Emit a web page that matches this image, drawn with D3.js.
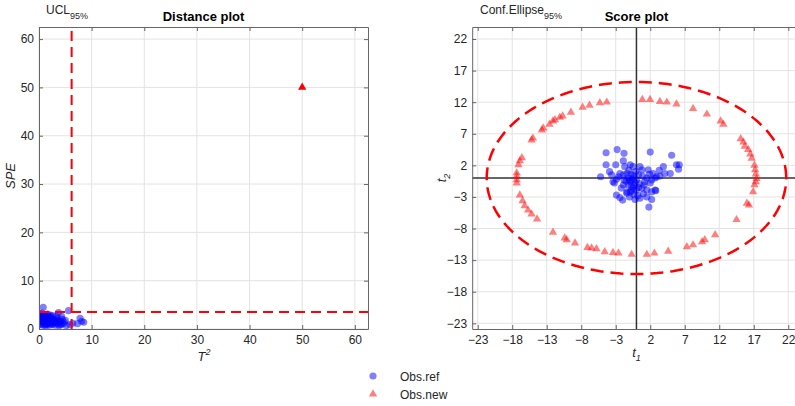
<!DOCTYPE html>
<html>
<head>
<meta charset="utf-8">
<script src="https://cdn.jsdelivr.net/npm/d3@7"></script>
<style>
  html, body { margin: 0; padding: 0; background: #fff; }
  svg { display: block; font-family: "Liberation Sans", Arial, Helvetica, sans-serif; }
</style>
</head>
<body>
<svg id="chart" width="795" height="406"></svg>
<script>
// ---- Distance plot data: [T², SPE] of reference observations ----
const refDistance = [
  [0.8,4.5],[5.6,3.8],[3.7,3.4],[7.8,2.2],[8.1,1.6],[8.5,1.4],[7.3,1.1],[0.1,3.2],[0.3,2.9],[0.5,2.5],
  [0.6,1.9],[0.9,2.2],[1.1,1.4],[1.3,2.7],[1.5,1.8],[1.7,1.1],[2.0,2.3],[2.2,1.5],[2.5,0.9],[2.8,2.0],
  [3.0,1.3],[3.3,2.6],[3.6,1.7],[4.0,1.0],[4.4,2.0],[4.8,1.4],[5.2,0.7],[0.2,1.5],[0.4,1.1],[0.7,0.8],
  [1.0,3.0],[1.2,0.9],[1.4,2.3],[1.6,3.1],[1.9,1.3],[2.1,2.9],[2.4,1.9],[2.7,1.2],[3.1,0.8],[3.5,2.2],
  [3.9,1.5],[4.3,2.6],[0.3,2.0],[0.6,1.4],[0.8,2.7],[1.1,1.8],[1.3,0.6],[1.8,2.0],[2.3,2.5],[2.9,1.6],
  [3.4,1.1],[0.1,2.4],[0.5,3.0],[0.9,1.6],[1.2,2.5],[1.6,1.5],[2.0,0.8],[2.6,2.8],[3.2,1.9],[4.1,1.6],
  [0.4,1.7],[0.7,2.3],[1.0,1.2],[1.5,2.1],[2.2,1.1],[2.8,1.4],[0.2,0.9],[0.6,3.3],[1.4,1.0],[1.9,2.6],
  [5.9,0.9],[6.4,1.2],[4.6,1.1],[0.35,2.6],[0.95,1.9],[1.75,1.7],[2.45,1.5],[3.8,0.7],[5.0,1.8],[4.2,0.9]
];
// New observation in the distance plot
const newDistance = [[50, 50]];
// Control limits
const ucl = { t2: 6.2, spe: 3.5 };
const distTicks = [0, 10, 20, 30, 40, 50, 60];

// ---- Score plot data: [t1, t2] ----
const refScores = [
  [-4.4,4.0],[-2.8,4.5],[-1.8,3.9],[2.0,4.1],[5.1,3.6],[-4.4,2.1],[-3.0,2.1],[-1.9,2.7],[-1.7,1.8],[-0.9,2.1],
  [-0.5,1.8],[0.5,1.8],[0.8,1.3],[1.7,1.3],[2.4,0.7],[3.9,1.8],[4.1,0.7],[4.9,0.7],[3.4,0.3],[2.9,0.2],
  [5.8,2.1],[6.2,2.1],[6.1,1.4],[-5.2,0.2],[-3.6,0.5],[-3.4,-0.6],[-2.9,-0.2],[-3.2,-0.8],[-2.4,0.7],[-1.9,0.5],
  [-1.4,0.7],[-1.2,0.0],[-0.9,-0.6],[-0.5,0.0],[-0.2,-0.8],[0.0,-0.3],[-0.7,-1.4],[-1.2,-1.1],[-1.9,-1.1],[-0.5,-1.6],
  [0.0,-1.9],[-0.9,-2.2],[-1.4,-2.2],[1.2,-0.6],[1.5,0.0],[2.2,-0.3],[2.0,-0.8],[2.7,0.0],[0.8,-1.6],[1.5,-1.9],
  [2.2,-2.2],[2.7,-1.9],[-2.9,-2.7],[-2.4,-3.1],[-2.0,-3.5],[-1.4,-2.4],[1.0,-2.5],[1.5,-3.0],[2.2,-3.4],[2.8,-2.0],
  [1.8,-4.6],[-0.6,-0.3],[-0.3,-1.2],[-1.0,-0.4],[-0.8,0.6],[0.3,0.5],[-1.5,-0.5],[0.4,-0.9],[-0.4,-2.6],[0.2,-2.8],
  [-0.2,-3.4],[0.5,-3.2],[-1.0,-3.0],[-2.2,-1.6],[-2.6,0.2],[0.9,0.3],[-0.1,1.0],[-1.1,1.2],[1.1,-1.1],[-0.7,-2.0],
  [0.3,-1.5],[-1.8,-0.3],[-0.4,0.4],[1.9,0.6],[3.3,1.2],[-3.9,1.0]
];
const newScores = [
  // upper left
  [-4.3,12.0],[-5.3,11.9],[-6.8,11.5],[-7.8,11.2],[-9.5,10.4],[-10.7,9.8],[-11.1,9.6],[-11.8,9.2],[-12.1,9.0],[-12.6,8.5],
  [-13.5,7.9],[-13.7,7.6],[-15.0,6.3],[-15.2,6.0],[-16.6,3.2],[-16.9,2.7],[-17.1,2.1],[-17.35,0.8],[-17.35,0.3],[-17.35,-0.3],
  [-17.35,-0.8],
  // lower left
  [-16.9,-2.7],[-16.5,-3.6],[-16.2,-4.4],[-15.7,-5.1],[-15.2,-5.7],[-14.4,-6.5],[-12.1,-8.6],[-10.4,-9.5],[-10.1,-9.8],[-8.9,-10.3],
  [-7.1,-11.0],[-6.5,-11.1],[-5.8,-11.2],[-4.6,-11.7],[-3.4,-11.8],[-2.6,-11.9],[-0.7,-12.1],
  // upper right
  [0.85,12.4],[1.96,12.4],[3.4,12.1],[4.4,12.0],[5.8,11.7],[8.2,11.0],[10.2,10.1],[12.2,9.0],[12.6,8.5],[15.1,6.2],
  [15.5,5.7],[15.7,5.0],[16.2,4.5],[16.5,3.8],[16.7,3.1],[17.1,2.0],[17.2,1.3],[17.3,0.6],[17.4,-0.1],
  // lower right
  [17.3,-0.6],[17.1,-1.1],[16.9,-2.2],[16.0,-4.0],[16.3,-4.3],[14.5,-6.6],[11.4,-9.0],[9.9,-9.8],[9.5,-10.1],[8.2,-10.6],
  [7.3,-10.9],[4.6,-11.6],[2.6,-11.9],[1.5,-12.1]
];
// 95% confidence ellipse semi-axes (t1, t2)
const ellipseAxes = { a: 21.7, b: 15.2 };
const scoreTicks = [-23, -18, -13, -8, -3, 2, 7, 12, 17, 22];

// ---- Styling ----
const blueFill = "rgba(0,0,255,0.5)";
const redFill = "rgba(255,0,0,0.5)";
const spineColor = "#666";
const gridColor = "#e3e3e3";
const textColor = "#262626";

const svg = d3.select("#chart");

const circleSym = d3.symbol().type(d3.symbolCircle).size(40);
const triSym = d3.symbol().type(d3.symbolTriangle).size(30);

function drawGrid(g, x, y, ticksX, ticksY) {
  const [x0, x1] = x.range();
  const [y1, y0] = y.range();
  g.append("g").selectAll("line").data(ticksX).join("line")
    .attr("x1", d => x(d)).attr("x2", d => x(d))
    .attr("y1", y0).attr("y2", y1)
    .attr("stroke", gridColor).attr("stroke-width", 1);
  g.append("g").selectAll("line").data(ticksY).join("line")
    .attr("y1", d => y(d)).attr("y2", d => y(d))
    .attr("x1", x0).attr("x2", x1)
    .attr("stroke", gridColor).attr("stroke-width", 1);
}

function drawAxes(g, x, y, ticksX, ticksY) {
  const [x0, x1] = x.range();
  const [y1, y0] = y.range();
  const bottom = d3.axisBottom(x).tickValues(ticksX).tickSizeInner(-4).tickSizeOuter(0).tickPadding(6);
  const left = d3.axisLeft(y).tickValues(ticksY).tickSizeInner(-4).tickSizeOuter(0).tickPadding(5);
  const top = d3.axisTop(x).tickValues(ticksX).tickSizeInner(-4).tickSizeOuter(0).tickFormat("");
  const right = d3.axisRight(y).tickValues(ticksY).tickSizeInner(-4).tickSizeOuter(0).tickFormat("");
  const styleAxis = sel => {
    sel.selectAll("path").attr("stroke", spineColor).attr("stroke-width", 1);
    sel.selectAll("line").attr("stroke", spineColor).attr("stroke-width", 1);
    sel.selectAll("text").attr("fill", textColor).style("font-size", "12px")
      .style("font-family", "'Liberation Sans', Arial, Helvetica, sans-serif");
  };
  g.append("g").attr("transform", `translate(0,${y1})`).call(bottom).call(styleAxis);
  g.append("g").attr("transform", `translate(${x0},0)`).call(left).call(styleAxis);
  g.append("g").attr("transform", `translate(0,${y0})`).call(top).call(styleAxis);
  g.append("g").attr("transform", `translate(${x1},0)`).call(right).call(styleAxis);
}

// ================= Distance plot =================
{
  const x = d3.scaleLinear().domain([0, 62.5]).range([39, 368]);
  const y = d3.scaleLinear().domain([0, 62.5]).range([329, 27]);
  const g = svg.append("g");
  svg.append("clipPath").attr("id", "clipL").append("rect")
    .attr("x", 39).attr("y", 27).attr("width", 329).attr("height", 302);
  drawGrid(g, x, y, distTicks, distTicks);

  const c = g.append("g").attr("clip-path", "url(#clipL)");
  c.selectAll("path.ref").data(refDistance).join("path")
    .attr("d", circleSym).attr("fill", blueFill)
    .attr("transform", d => `translate(${x(d[0])},${y(d[1])})`);
  c.selectAll("path.new").data(newDistance).join("path")
    .attr("d", triSym).attr("fill", "#ff0000")
    .attr("transform", d => `translate(${x(d[0])},${y(d[1])})`);

  // UCL lines
  c.append("line")
    .attr("x1", x(ucl.t2)).attr("x2", x(ucl.t2))
    .attr("y1", y(0)).attr("y2", y(62.5))
    .attr("stroke", "#ff0000").attr("stroke-width", 2).attr("stroke-dasharray", "10,6");
  c.append("line")
    .attr("x1", x(0)).attr("x2", x(62.5))
    .attr("y1", y(ucl.spe)).attr("y2", y(ucl.spe))
    .attr("stroke", "#ff0000").attr("stroke-width", 2).attr("stroke-dasharray", "10,6");

  drawAxes(g, x, y, distTicks, distTicks);

  // Title and labels
  g.append("text").attr("x", 203.5).attr("y", 21).attr("text-anchor", "middle")
    .attr("font-weight", "bold").attr("font-size", 13).attr("fill", "#000").text("Distance plot");
  const ucl95 = g.append("text").attr("x", 46).attr("y", 14).attr("font-size", 12).attr("fill", textColor);
  ucl95.append("tspan").text("UCL");
  ucl95.append("tspan").attr("dy", 5).attr("font-size", 9).text("95%");

  const xl = g.append("text").attr("x", 204).attr("y", 361).attr("text-anchor", "middle")
    .attr("font-size", 13).attr("font-style", "italic").attr("fill", textColor);
  xl.append("tspan").text("T");
  xl.append("tspan").attr("dy", -6).attr("font-size", 9).text("2");

  g.append("text").attr("transform", "translate(15,176) rotate(-90)").attr("text-anchor", "middle")
    .attr("font-size", 13).attr("font-style", "italic").attr("fill", textColor).text("SPE");
}

// ================= Score plot =================
{
  const x = d3.scaleLinear().domain([-23.8, 23.8]).range([472.2, 800.7]);
  const y = d3.scaleLinear().domain([-23.9, 23.9]).range([329, 27]);
  const g = svg.append("g");
  svg.append("clipPath").attr("id", "clipR").append("rect")
    .attr("x", 472.2).attr("y", 27).attr("width", 328.5).attr("height", 302);
  drawGrid(g, x, y, scoreTicks, scoreTicks);

  const c = g.append("g").attr("clip-path", "url(#clipR)");
  // zero axes
  c.append("line").attr("x1", x(0)).attr("x2", x(0)).attr("y1", 27).attr("y2", 329)
    .attr("stroke", "#333").attr("stroke-width", 1.5);
  c.append("line").attr("y1", y(0)).attr("y2", y(0)).attr("x1", 472.2).attr("x2", 800.7)
    .attr("stroke", "#333").attr("stroke-width", 1.5);

  c.selectAll("path.ref").data(refScores).join("path")
    .attr("d", circleSym).attr("fill", blueFill)
    .attr("transform", d => `translate(${x(d[0])},${y(d[1])})`);
  c.selectAll("path.new").data(newScores).join("path")
    .attr("d", triSym).attr("fill", redFill)
    .attr("transform", d => `translate(${x(d[0])},${y(d[1])})`);

  // confidence ellipse
  const angles = d3.range(0, 361, 2);
  const ell = d3.line()
    .x(t => x(ellipseAxes.a * Math.cos(t * Math.PI / 180)))
    .y(t => y(ellipseAxes.b * Math.sin(t * Math.PI / 180)));
  c.append("path").datum(angles).attr("d", ell).attr("fill", "none")
    .attr("stroke", "#ff0000").attr("stroke-width", 2.5).attr("stroke-dasharray", "13,7");

  drawAxes(g, x, y, scoreTicks, scoreTicks);

  g.append("text").attr("x", 636.5).attr("y", 21).attr("text-anchor", "middle")
    .attr("font-weight", "bold").attr("font-size", 13).attr("fill", "#000").text("Score plot");
  const ce = g.append("text").attr("x", 480).attr("y", 14).attr("font-size", 12).attr("fill", textColor);
  ce.append("tspan").text("Conf.Ellipse");
  ce.append("tspan").attr("dy", 5).attr("font-size", 9).text("95%");

  const xl = g.append("text").attr("x", 636.5).attr("y", 357).attr("text-anchor", "middle")
    .attr("font-size", 13).attr("font-style", "italic").attr("fill", textColor);
  xl.append("tspan").text("t");
  xl.append("tspan").attr("dy", 4).attr("font-size", 9).text("1");

  const yl = g.append("text").attr("transform", "translate(446,178) rotate(-90)").attr("text-anchor", "middle")
    .attr("font-size", 13).attr("font-style", "italic").attr("fill", textColor);
  yl.append("tspan").text("t");
  yl.append("tspan").attr("dy", 4).attr("font-size", 9).text("2");
}

// ================= Legend =================
{
  const items = [
    { label: "Obs.ref", sym: circleSym, fill: blueFill },
    { label: "Obs.new", sym: triSym, fill: redFill }
  ];
  const lg = svg.append("g");
  const row = lg.selectAll("g").data(items).join("g")
    .attr("transform", (d, i) => `translate(373,${376 + i * 18})`);
  row.append("path").attr("d", d => d.sym()).attr("fill", d => d.fill);
  row.append("text").attr("x", 27).attr("y", 5).attr("font-size", 12).attr("fill", textColor)
    .text(d => d.label);
}
</script>
</body>
</html>
